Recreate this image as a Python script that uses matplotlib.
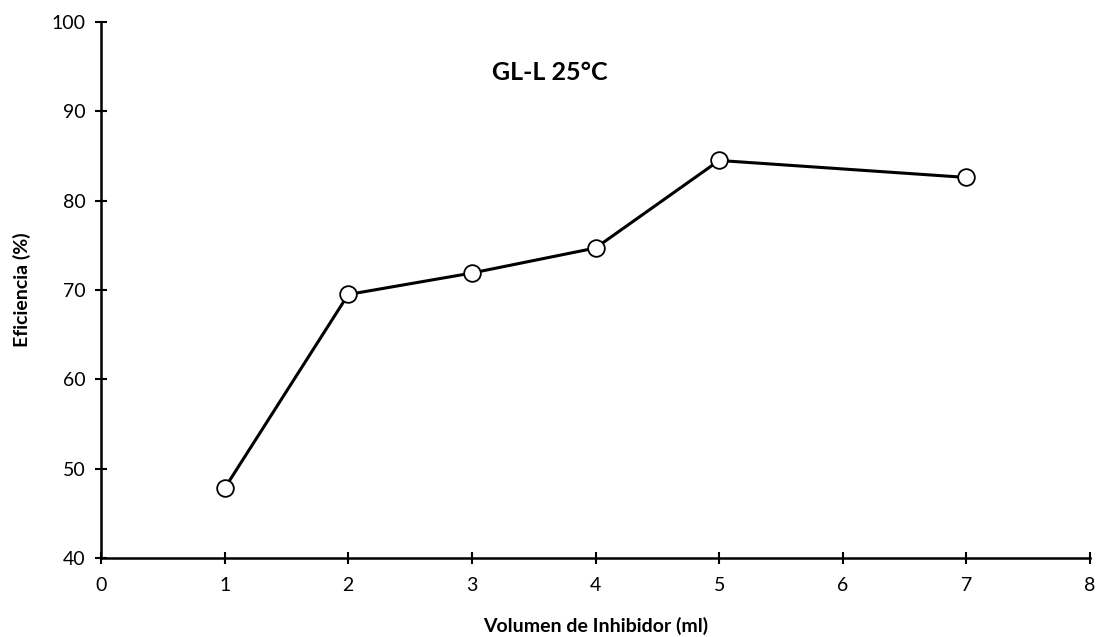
import matplotlib
matplotlib.use("Agg")
import matplotlib.pyplot as plt

# Data
volumen = [1, 2, 3, 4, 5, 7]
eficiencia = [47.8, 69.5, 71.9, 74.7, 84.5, 82.6]
x_ticks = [0, 1, 2, 3, 4, 5, 6, 7, 8]
y_ticks = [40, 50, 60, 70, 80, 90, 100]

plt.rcParams['font.family'] = ['Lato', 'DejaVu Sans']

fig = plt.figure(figsize=(10.96, 6.37), dpi=100)
ax = fig.add_axes([101 / 1096, 1 - 558 / 637, 989 / 1096, 536 / 637])

ax.plot(volumen, eficiencia, color="black", linewidth=2.2, marker="o",
        markersize=12, markerfacecolor="white", markeredgecolor="black",
        markeredgewidth=1.3, zorder=3)

ax.set_xlim(0, 8)
ax.set_ylim(40, 100)
ax.set_xticks(x_ticks)
ax.set_yticks(y_ticks)
ax.tick_params(direction="inout", length=8, width=1.5, labelsize=14, pad=7)
ax.tick_params(axis="x", pad=10)

for side in ("top", "right"):
    ax.spines[side].set_visible(False)
for side in ("left", "bottom"):
    ax.spines[side].set_linewidth(1.8)

ax.set_xlabel("Volumen de Inhibidor (ml)", fontsize=14, fontweight="bold", labelpad=16)
ax.set_ylabel("Eficiencia (%)", fontsize=14, fontweight="bold", labelpad=15)

ax.text(3.63, 94.4, "GL-L 25°C", fontsize=18, fontweight="bold",
        ha="center", va="center")

fig.savefig("out.png", dpi=100)
